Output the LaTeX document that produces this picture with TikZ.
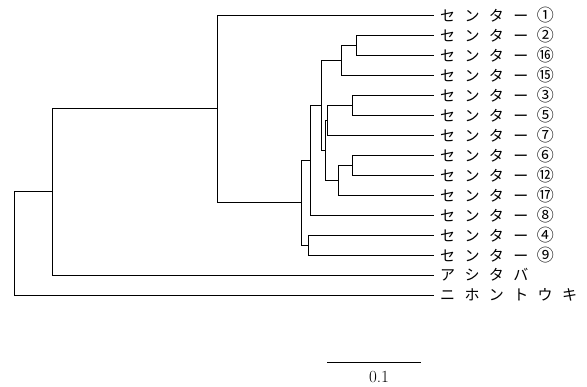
\documentclass[tikz,border=0pt]{standalone}
\usepackage{fontspec}
\newfontfamily\jp{Noto Sans CJK JP}
\newcommand\spaced[1]{\foreach \ch in {#1}{\makebox[24.4pt][c]{\ch}}}
\newcommand\cnum[1]{{\fontsize{17}{17}\selectfont #1}}
\begin{document}
\begin{tikzpicture}[x=1pt, y=-1pt, line width=0.9pt,
  leaf/.style={anchor=west, inner sep=1pt, font=\jp\fontsize{15}{15}\selectfont}]
\useasboundingbox (0,0) rectangle (587,387);
\node[leaf] (t1) at (434,15) {\spaced{セ,ン,タ,ー,\cnum{①}}};
\node[leaf] (t2) at (434,35) {\spaced{セ,ン,タ,ー,\cnum{②}}};
\node[leaf] (t3) at (434,55) {\spaced{セ,ン,タ,ー,\cnum{⑯}}};
\node[leaf] (t4) at (434,75) {\spaced{セ,ン,タ,ー,\cnum{⑮}}};
\node[leaf] (t5) at (434,95) {\spaced{セ,ン,タ,ー,\cnum{③}}};
\node[leaf] (t6) at (434,115) {\spaced{セ,ン,タ,ー,\cnum{⑤}}};
\node[leaf] (t7) at (434,135) {\spaced{セ,ン,タ,ー,\cnum{⑦}}};
\node[leaf] (t8) at (434,155) {\spaced{セ,ン,タ,ー,\cnum{⑥}}};
\node[leaf] (t9) at (434,175) {\spaced{セ,ン,タ,ー,\cnum{⑫}}};
\node[leaf] (t10) at (434,195) {\spaced{セ,ン,タ,ー,\cnum{⑰}}};
\node[leaf] (t11) at (434,215) {\spaced{セ,ン,タ,ー,\cnum{⑧}}};
\node[leaf] (t12) at (434,235) {\spaced{セ,ン,タ,ー,\cnum{④}}};
\node[leaf] (t13) at (434,255) {\spaced{セ,ン,タ,ー,\cnum{⑨}}};
\node[leaf] (t14) at (434,275) {\spaced{ア,シ,タ,バ}};
\node[leaf] (t15) at (434,295) {\spaced{ニ,ホ,ン,ト,ウ,キ}};
\coordinate (a) at (356.5,45);
\coordinate (b) at (341.7,60);
\coordinate (c) at (352,105);
\coordinate (d) at (327,120);
\coordinate (e) at (352.3,165);
\coordinate (f) at (338.3,180);
\coordinate (g) at (325.7,150);
\coordinate (h) at (321.7,105);
\coordinate (i) at (310.5,160);
\coordinate (j) at (308.3,245);
\coordinate (k) at (301.7,202.5);
\coordinate (m) at (217,108.75);
\coordinate (n) at (52,191.9);
\coordinate (r) at (14,243.4);
\draw (r) |- (n);
\draw (r) |- (t15);
\draw (n) |- (m);
\draw (n) |- (t14);
\draw (m) |- (t1);
\draw (m) |- (k);
\draw (k) |- (i);
\draw (k) |- (j);
\draw (j) |- (t12);
\draw (j) |- (t13);
\draw (i) |- (h);
\draw (i) |- (t11);
\draw (h) |- (b);
\draw (h) |- (g);
\draw (b) |- (a);
\draw (b) |- (t4);
\draw (a) |- (t2);
\draw (a) |- (t3);
\draw (g) |- (d);
\draw (g) |- (f);
\draw (d) |- (c);
\draw (d) |- (t7);
\draw (c) |- (t5);
\draw (c) |- (t6);
\draw (f) |- (e);
\draw (f) |- (t10);
\draw (e) |- (t8);
\draw (e) |- (t9);
\coordinate (s1) at (327,362);
\coordinate (s2) at (421,362);
\draw (s1) -- (s2);
\node[font=\fontsize{17}{17}\selectfont] (sl) at (379,377) {0.1};
\end{tikzpicture}
\end{document}
